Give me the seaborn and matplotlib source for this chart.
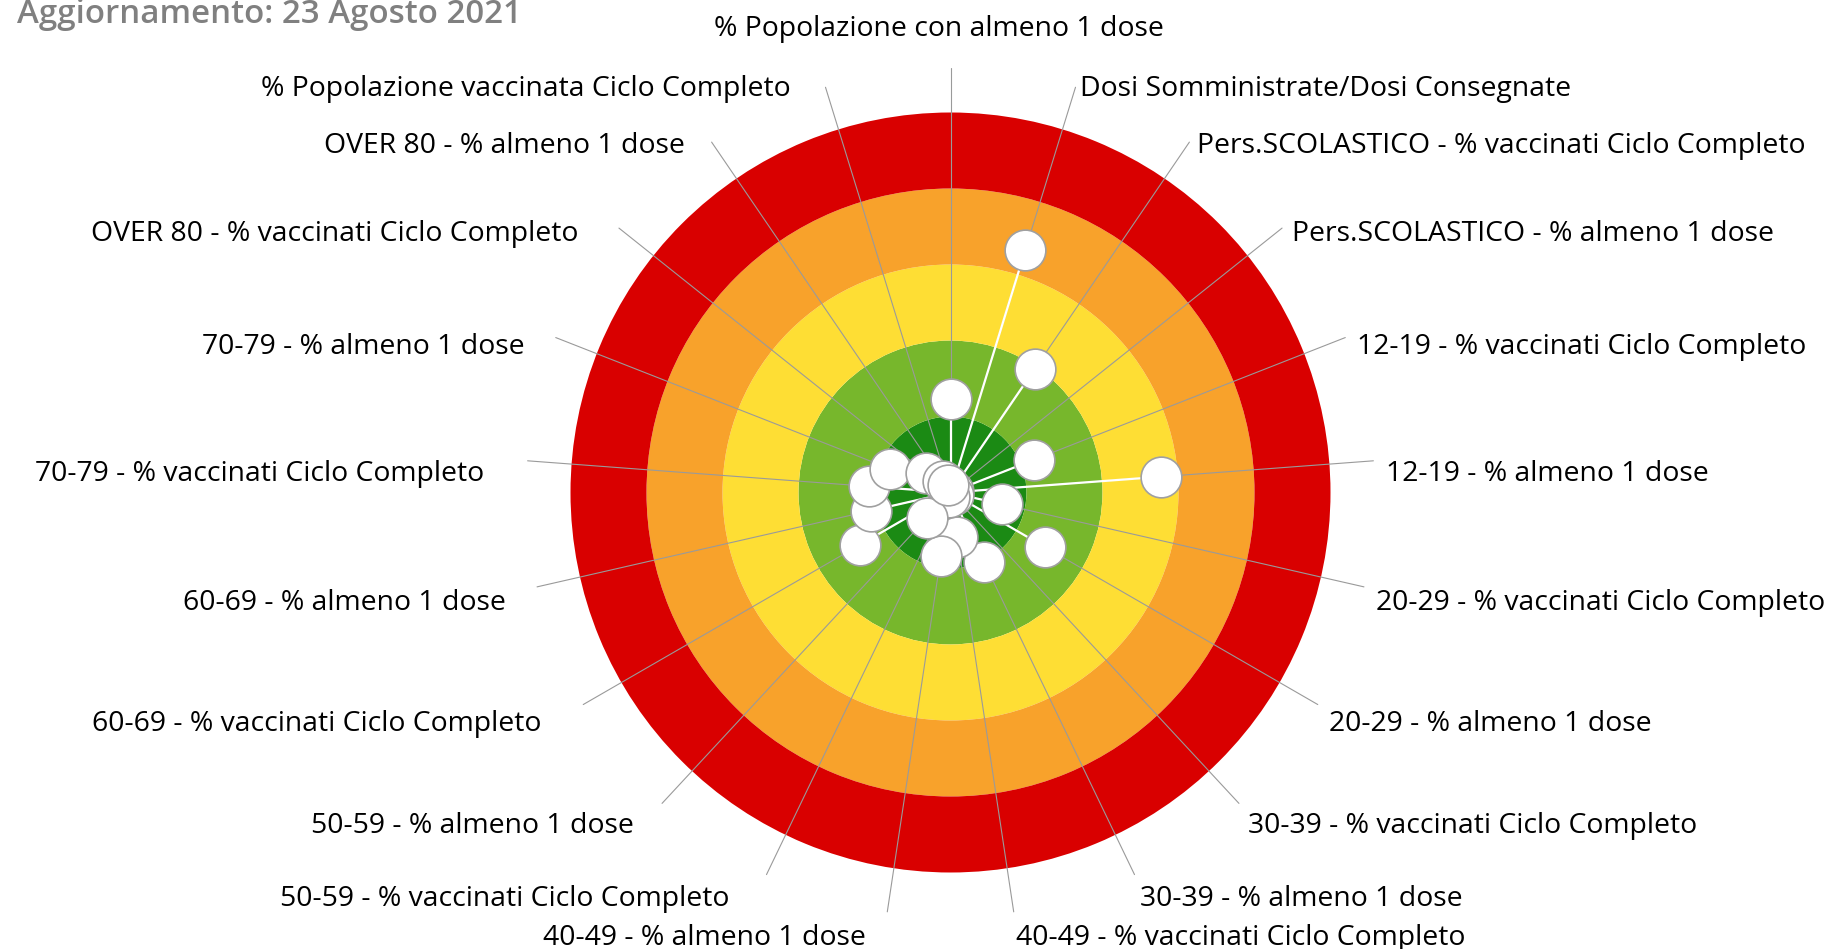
import numpy as np
import pandas as pd
import matplotlib
matplotlib.use('Agg')
import matplotlib.pyplot as plt
import seaborn as sns

# Etichette dei raggi (in senso orario, partendo dall'alto)
etichette = [
    '% Popolazione con almeno 1 dose',
    'Dosi Somministrate/Dosi Consegnate',
    'Pers.SCOLASTICO - % vaccinati Ciclo Completo',
    'Pers.SCOLASTICO - % almeno 1 dose',
    '12-19 - % vaccinati Ciclo Completo',
    '12-19 - % almeno 1 dose',
    '20-29 - % vaccinati Ciclo Completo',
    '20-29 - % almeno 1 dose',
    '30-39 - % vaccinati Ciclo Completo',
    '30-39 - % almeno 1 dose',
    '40-49 - % vaccinati Ciclo Completo',
    '40-49 - % almeno 1 dose',
    '50-59 - % vaccinati Ciclo Completo',
    '50-59 - % almeno 1 dose',
    '60-69 - % vaccinati Ciclo Completo',
    '60-69 - % almeno 1 dose',
    '70-79 - % vaccinati Ciclo Completo',
    '70-79 - % almeno 1 dose',
    'OVER 80 - % vaccinati Ciclo Completo',
    'OVER 80 - % almeno 1 dose',
    '% Popolazione vaccinata Ciclo Completo',
]

# Distanza dal bersaglio (0 = centro, 5 = bordo esterno)
valori = [1.23, 3.34, 1.97, 0.04, 1.18, 2.78, 0.70, 1.44, 0.05, 1.02, 0.59,
          0.85, 0.06, 0.45, 1.37, 1.07, 1.07, 0.85, 0.42, 0.18, 0.10]

# Fasce del bersaglio
fasce = [0, 1, 2, 3, 4]
colori_fasce = ['#1b8a14', '#77b72c', '#fede34', '#f8a22b', '#d90000']

titolo = 'Aggiornamento: 23 Agosto 2021'

n = len(etichette)
df = pd.DataFrame({'Etichetta': etichette, 'Valore': valori})
df['Theta'] = np.arange(n) * 2 * np.pi / n

sns.set_theme(style='white')
plt.rcParams['font.family'] = ['Open Sans', 'DejaVu Sans']

W, H = 1839, 949
fig = plt.figure(figsize=(W / 100, H / 100), dpi=100)
cx, cy, unit = 950.5, 492.5, 76.0
rmax = 5.6
raggio = rmax * unit
ax = fig.add_axes([(cx - raggio) / W, (H - cy - raggio) / H, 2 * raggio / W, 2 * raggio / H],
                  projection='polar')
ax.set_theta_zero_location('N')
ax.set_theta_direction(-1)
ax.set_ylim(0, rmax)
ax.set_axis_off()

# Anelli colorati
for b, c in zip(fasce, colori_fasce):
    ax.bar(0, 1, width=2 * np.pi, bottom=b, color=c, align='edge', linewidth=0, zorder=1)

# Raggi grigi e tratti bianchi fino al punto
for t, v in zip(df['Theta'], df['Valore']):
    ax.plot([t, t], [0, 5.58], color='#9a9a9a', lw=0.8, zorder=2)
    ax.plot([t, t], [0, v], color='white', lw=1.6, zorder=3, solid_capstyle='butt')

sns.scatterplot(data=df, x='Theta', y='Valore', ax=ax, s=860, color='white',
                edgecolor='#a0a0a0', linewidth=1.2, zorder=4, legend=False)
ax.set_ylim(0, rmax)

# Etichette intorno al bersaglio
fs = 20.4
for i, (t, lab) in enumerate(zip(df['Theta'], df['Etichetta'])):
    if i == 0:
        ax.annotate(lab, (t, 5.6), xytext=(-12, 41 - 10.5), textcoords='offset pixels',
                    ha='center', va='baseline', fontsize=fs, color='black', annotation_clip=False)
    elif i <= n // 2:
        ax.annotate(lab, (t, 5.74), xytext=(0.5, -20.8), textcoords='offset pixels',
                    ha='left', va='baseline', fontsize=fs, color='black', annotation_clip=False)
    else:
        dx = -19.5 if 'almeno' in lab else -31.5
        ax.annotate(lab, (t, 5.74), xytext=(dx, -20.8), textcoords='offset pixels',
                    ha='right', va='baseline', fontsize=fs, color='black', annotation_clip=False)

fig.text(17.3 / W, 1 - 23.3 / H, titolo, ha='left', va='baseline', fontsize=23.8,
         fontweight='semibold', color='#808080')

fig.savefig('out.png', dpi=100)
